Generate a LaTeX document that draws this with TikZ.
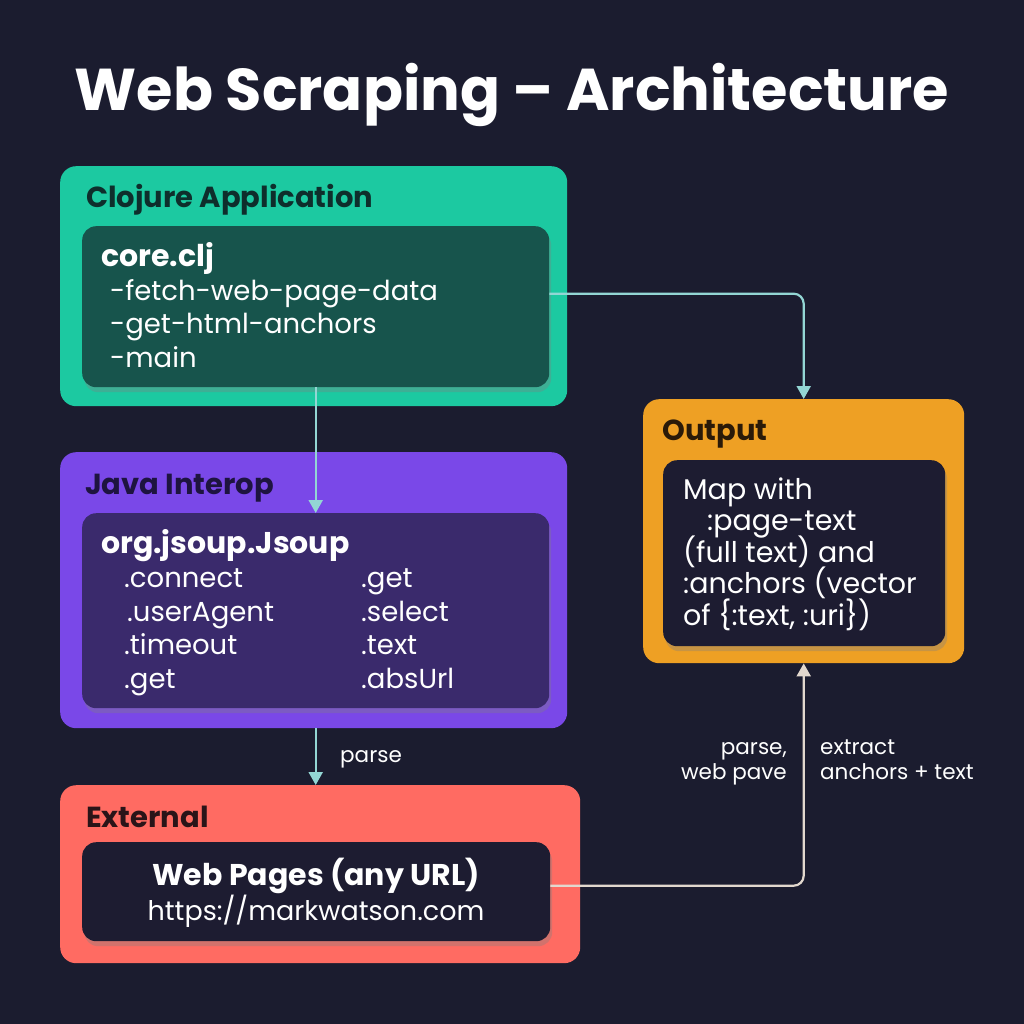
\documentclass[tikz,border=0pt]{standalone}
\usepackage{fontspec}
\setmainfont{Poppins}
\usetikzlibrary{arrows.meta,shadows}
\newcommand\mytightls{\lineskiplimit=-50pt\relax}
\definecolor{bg}{HTML}{1B1C2F}
\definecolor{tealc}{HTML}{1CC9A1}
\definecolor{tealin}{HTML}{17544C}
\definecolor{purp}{HTML}{7A48E8}
\definecolor{purpin}{HTML}{3A2A6C}
\definecolor{coral}{HTML}{FF6B62}
\definecolor{orng}{HTML}{EEA024}
\definecolor{darkin}{HTML}{1D1C31}
\definecolor{arrteal}{HTML}{93D6D4}
\definecolor{arrbeige}{HTML}{E2D8CE}
\definecolor{ttlteal}{HTML}{0E2E2C}
\definecolor{ttlpurp}{HTML}{1E1440}
\definecolor{ttlcoral}{HTML}{2A1418}
\definecolor{ttlorng}{HTML}{2A1A08}
\begin{document}
\begin{tikzpicture}[x=1pt,y=-1pt,
  outerbox/.style={rounded corners=16pt, anchor=north west, inner sep=0pt, draw=none},
  innerbox/.style={rounded corners=14pt, anchor=north west, inner sep=0pt, draw=none,
     drop shadow={opacity=0.35, shadow xshift=2pt, shadow yshift=-5pt}},
  boxtitle/.style={anchor=base west, inner sep=0pt, font=\fontsize{29}{33}\selectfont\bfseries},
  headtxt/.style={inner sep=0pt, text=white, font=\fontsize{30}{34}\selectfont\bfseries},
  bodytxt/.style={anchor=base west, inner sep=0pt, align=left, text=white, font=\fontsize{27.5}{33.5}\selectfont},
  lbl/.style={inner sep=0pt, text=white, font=\fontsize{21.5}{24.5}\selectfont},
  arr/.style={line width=2.2pt, rounded corners=10pt, -{Triangle[length=13pt,width=14pt]}}
]
\fill[bg] (0,0) rectangle (1024,1024);
\useasboundingbox (0,0) rectangle (1024,1024);

\node[anchor=base, inner sep=0pt, text=white, font=\fontsize{59}{64}\selectfont\bfseries] (title) at (512,111) {Web Scraping – Architecture};

% Clojure application
\node[outerbox, fill=tealc, minimum width=507pt, minimum height=240pt] (clj) at (60,166) {};
\node[boxtitle, text=ttlteal] (cljt) at (86,208) {Clojure Application};
\node[innerbox, fill=tealin, minimum width=467pt, minimum height=161pt] (cj) at (82,226) {};
\node[headtxt, anchor=base west] (corefile) at (101,266) {core.clj};
\node[bodytxt] (corefns) at (110,367) {-fetch-web-page-data\\-get-html-anchors\\-main};

% Java interop
\node[outerbox, fill=purp, minimum width=507pt, minimum height=276pt] (java) at (60,452) {};
\node[boxtitle, text=ttlpurp] (javat) at (85,494) {Java Interop};
\node[innerbox, fill=purpin, minimum width=467pt, minimum height=195pt] (jin) at (82,513) {};
\node[headtxt, anchor=base west] (jsoup) at (101,553) {org.jsoup.Jsoup};
\node[bodytxt] (jleft) at (124,688) {.connect\\\hspace{3pt}.userAgent\\.timeout\\.get};
\node[bodytxt] (jright) at (361,688) {.get\\.select\\.text\\.absUrl};

% External
\node[outerbox, fill=coral, minimum width=520pt, minimum height=178pt] (ext) at (60,785) {};
\node[boxtitle, text=ttlcoral] (extt) at (86,827) {External};
\node[innerbox, fill=darkin, minimum width=468pt, minimum height=99pt] (win) at (82,842) {};
\node[headtxt, anchor=base] (wp) at (316,885) {Web Pages (any URL)};
\node[anchor=base, inner sep=0pt, text=white, font=\fontsize{27}{30}\selectfont] (url) at (316,920) {https://markwatson.com};

% Output
\node[outerbox, fill=orng, minimum width=321pt, minimum height=264pt] (out) at (643,399) {};
\node[boxtitle, text=ttlorng] (outt) at (662,440) {Output};
\node[innerbox, fill=darkin, minimum width=282pt, minimum height=186pt] (oin) at (663,460) {};
\node[anchor=base west, inner sep=0pt, align=left, text=white, font=\fontsize{28.5}{31.5}\selectfont\mytightls] (otxt) at (683,625) {Map with\\\hspace{24pt}:page-text\\(full text) and\\:anchors (vector\\of \{:text, :uri\})};

% connectors
\draw[arr, arrteal] ([yshift=13pt]cj.east) -| (out.north);
\draw[arr, arrteal] (cj.south) -- (jin.north);
\draw[arr, arrteal] (java.south -| cj.south) -- (ext.north -| cj.south);
\draw[arr, arrbeige] ([yshift=6pt]win.east) -| (out.south);

% labels
\node[lbl, anchor=base west] (lparse) at (340,762) {parse};
\node[lbl, anchor=base east, align=right] (lweb) at (787,779) {parse,\\web pave};
\node[lbl, anchor=base west, align=left] (lext) at (820,779) {extract\\anchors + text};
\end{tikzpicture}
\end{document}
